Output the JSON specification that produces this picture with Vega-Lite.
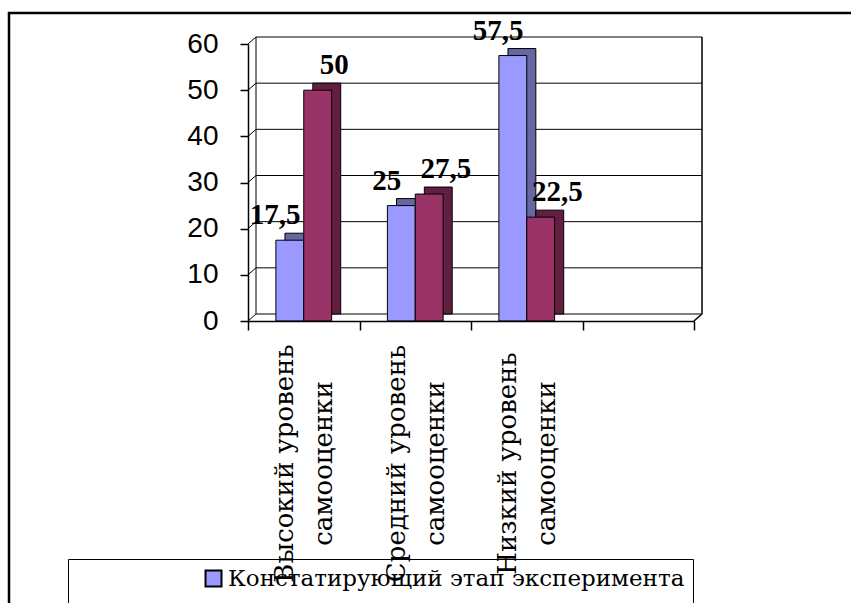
{
  "$schema": "https://vega.github.io/schema/vega-lite/v6.json",
  "width": 862,
  "height": 610,
  "autosize": {"type": "none"},
  "padding": {"left": 9, "top": 13, "right": -20, "bottom": -20},
  "background": "white",
  "config": {
    "view": {"stroke": "black", "strokeWidth": 2.5},
    "locale": {"number": {"decimal": ",", "thousands": " ", "grouping": [3], "currency": ["", ""]}}
  },
  "datasets": {
    "shares": [
      {"level": "Высокий уровень самооценки", "stage": "Констатирующий этап эксперимента", "value": 17.5},
      {"level": "Высокий уровень самооценки", "stage": "Контрольный этап эксперимента", "value": 50},
      {"level": "Средний уровень самооценки", "stage": "Констатирующий этап эксперимента", "value": 25},
      {"level": "Средний уровень самооценки", "stage": "Контрольный этап эксперимента", "value": 27.5},
      {"level": "Низкий уровень самооценки", "stage": "Констатирующий этап эксперимента", "value": 57.5},
      {"level": "Низкий уровень самооценки", "stage": "Контрольный этап эксперимента", "value": 22.5}
    ],
    "ticks": [{"tick": 0}, {"tick": 10}, {"tick": 20}, {"tick": 30}, {"tick": 40}, {"tick": 50}, {"tick": 60}],
    "one": [{}]
  },
  "data": {"name": "shares"},
  "resolve": {"scale": {"xOffset": "independent"}},
  "layer": [
    {
      "data": {"name": "ticks"},
      "mark": {"type": "rule", "color": "black", "strokeWidth": 1, "xOffset": 8, "x2Offset": 8, "yOffset": -7},
      "encoding": {
        "x": {"datum": "Высокий уровень самооценки", "type": "nominal", "bandPosition": 0, "title": null,
              "scale": {"type": "band", "domain": ["Высокий уровень самооценки", "Средний уровень самооценки", "Низкий уровень самооценки", " "], "range": [239, 685], "paddingInner": 0, "paddingOuter": 0}},
        "x2": {"datum": " ", "bandPosition": 1},
        "y": {"field": "tick", "type": "quantitative", "title": null, "scale": {"domain": [0, 60], "range": [308, 31], "nice": false, "zero": true}}
      }
    },
    {
      "data": {"name": "ticks"},
      "mark": {"type": "rule", "color": "black", "strokeWidth": 1, "x2Offset": 8, "y2Offset": -7},
      "encoding": {
        "x": {"datum": "Высокий уровень самооценки", "type": "nominal", "bandPosition": 0, "title": null},
        "x2": {"datum": "Высокий уровень самооценки", "bandPosition": 0},
        "y": {"field": "tick", "type": "quantitative", "title": null},
        "y2": {"field": "tick"}
      }
    },
    {
      "data": {"name": "one"},
      "mark": {"type": "rule", "color": "black", "strokeWidth": 1, "xOffset": 8, "yOffset": -7, "y2Offset": -7},
      "encoding": {
        "x": {"datum": "Высокий уровень самооценки", "type": "nominal", "bandPosition": 0, "title": null},
        "y": {"datum": 0, "type": "quantitative", "title": null},
        "y2": {"datum": 60}
      }
    },
    {
      "data": {"name": "one"},
      "mark": {"type": "rule", "color": "black", "strokeWidth": 1.5, "xOffset": 8, "yOffset": -7, "y2Offset": -7},
      "encoding": {
        "x": {"datum": " ", "type": "nominal", "bandPosition": 1, "title": null},
        "y": {"datum": 0, "type": "quantitative", "title": null},
        "y2": {"datum": 60}
      }
    },
    {
      "data": {"name": "one"},
      "mark": {"type": "rule", "color": "black", "strokeWidth": 1.5, "x2Offset": 8, "y2Offset": -7},
      "encoding": {
        "x": {"datum": " ", "type": "nominal", "bandPosition": 1, "title": null},
        "x2": {"datum": " ", "bandPosition": 1},
        "y": {"datum": 0, "type": "quantitative", "title": null},
        "y2": {"datum": 0}
      }
    },
    {
      "mark": {"type": "bar", "stroke": "black", "strokeWidth": 1, "yOffset": -7, "y2Offset": -7},
      "encoding": {
        "x": {"field": "level", "type": "nominal", "title": null},
        "xOffset": {"field": "stage", "type": "nominal", "sort": null,
                    "scale": {"domain": ["Констатирующий этап эксперимента", "Контрольный этап эксперимента"], "paddingInner": 0, "paddingOuter": 1.23, "align": 0.663}},
        "y": {"field": "value", "type": "quantitative", "title": null},
        "color": {
          "condition": {"test": "datum.stage === 'Констатирующий этап эксперимента'", "value": "#6666A3"},
          "value": "#631F42"
        }
      }
    },
    {
      "mark": {"type": "bar", "stroke": "black", "strokeWidth": 1},
      "encoding": {
        "x": {"field": "level", "type": "nominal", "title": null,
              "axis": {
                "title": null, "orient": "bottom", "offset": -302, "zindex": 3,
                "domainColor": "black", "domainWidth": 1.5,
                "tickColor": "black", "tickWidth": 1.5, "tickSize": 9, "tickBand": "extent",
                "labelAngle": 270, "labelAlign": "center", "labelBaseline": "middle",
                "labelPadding": 133, "labelOffset": -19,
                "labelFont": "DejaVu Serif", "labelFontSize": 26,
                "labelLineHeight": 39, "labelColor": "black", "labelLimit": 400,
                "labelExpr": "split(replace(datum.label, ' самооценки', '|самооценки'), '|')"
              }},
        "xOffset": {"field": "stage", "type": "nominal", "sort": null,
                    "scale": {"domain": ["Констатирующий этап эксперимента", "Контрольный этап эксперимента"], "paddingInner": 0, "paddingOuter": 1.23}},
        "y": {"field": "value", "type": "quantitative", "title": null,
              "axis": {
                "title": null, "orient": "left", "offset": -239,
                "values": [0, 10, 20, 30, 40, 50, 60], "grid": false,
                "domainColor": "black", "domainWidth": 1.5,
                "tickColor": "black", "tickWidth": 1.5, "tickSize": 8,
                "labelPadding": 22, "labelFont": "Liberation Sans", "labelFontSize": 28,
                "labelColor": "black"
              }},
        "color": {
          "field": "stage", "type": "nominal",
          "scale": {"domain": ["Констатирующий этап эксперимента", "Контрольный этап эксперимента"], "range": ["#9999FF", "#993366"]},
          "legend": {
            "orient": "none", "legendX": 59, "legendY": 546, "direction": "vertical", "zindex": 0,
            "title": null, "strokeColor": "black", "fillColor": "white",
            "padding": 8, "symbolType": "square", "symbolSize": 256,
            "symbolStrokeColor": "black", "symbolStrokeWidth": 2,
            "symbolOffset": 126, "labelOffset": 3,
            "labelFont": "DejaVu Serif", "labelFontSize": 23, "labelColor": "black",
            "labelLimit": 1000, "rowPadding": 60,
            "labelExpr": "datum.label + '\u00a0\u00a0\u00a0\u00a0\u00a0\u00a0\u00a0\u00a0\u00a0\u00a0\u00a0\u00a0\u00a0\u00a0\u00a0\u00a0\u00a0\u00a0\u00a0\u00a0\u00a0\u00a0\u00a0\u00a0\u00a0\u00a0\u00a0\u00a0\u00a0\u00a0\u00a0\u00a0\u00a0\u00a0'"
          }
        }
      }
    },
    {
      "transform": [{"filter": "datum.stage === 'Констатирующий этап эксперимента'"}],
      "mark": {"type": "text", "font": "Liberation Serif", "fontWeight": "bold", "fontSize": 29, "color": "black", "baseline": "bottom", "dy": -10, "dx": -10},
      "encoding": {
        "x": {"field": "level", "type": "nominal", "title": null},
        "xOffset": {"field": "stage", "type": "nominal", "sort": null,
                    "scale": {"domain": ["Констатирующий этап эксперимента", "Контрольный этап эксперимента"], "paddingInner": 0, "paddingOuter": 1.23}},
        "y": {"field": "value", "type": "quantitative", "title": null},
        "text": {"field": "value", "type": "quantitative", "format": "~g"}
      }
    },
    {
      "transform": [{"filter": "datum.stage === 'Контрольный этап эксперимента'"}],
      "mark": {"type": "text", "font": "Liberation Serif", "fontWeight": "bold", "fontSize": 29, "color": "black", "baseline": "bottom", "dy": -10, "dx": 12},
      "encoding": {
        "x": {"field": "level", "type": "nominal", "title": null},
        "xOffset": {"field": "stage", "type": "nominal", "sort": null,
                    "scale": {"domain": ["Констатирующий этап эксперимента", "Контрольный этап эксперимента"], "paddingInner": 0, "paddingOuter": 1.23}},
        "y": {"field": "value", "type": "quantitative", "title": null},
        "text": {"field": "value", "type": "quantitative", "format": "~g"}
      }
    }
  ]
}
